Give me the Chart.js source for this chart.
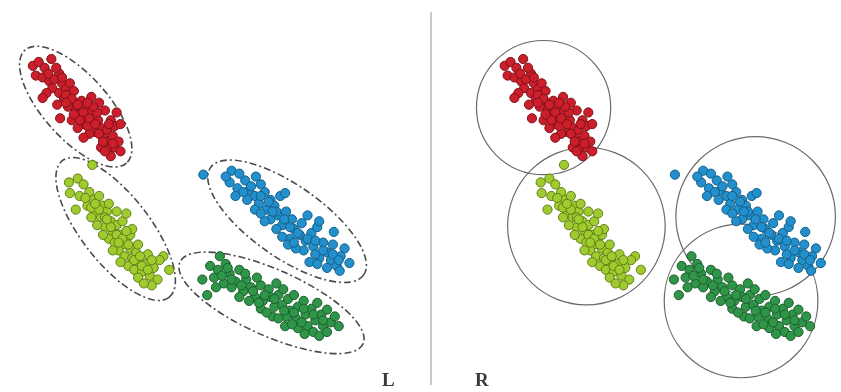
<!DOCTYPE html>
<html>
<head>
<meta charset="utf-8">
<script src="https://cdn.jsdelivr.net/npm/chart.js@4/dist/chart.umd.min.js"></script>
<style>
  html, body { margin: 0; padding: 0; background: #fff; }
  #wrap { position: relative; width: 841px; height: 392px; overflow: hidden; }
  .panel { position: absolute; top: 0; height: 392px; }
  #leftBox { left: 0; width: 431px; }
  #rightBox { left: 431px; width: 410px; }
  #divider { position: absolute; left: 430px; top: 12px; width: 2px; height: 373px; background: #c8c8c8; }
  .lbl { position: absolute; top: 369px; font-family: "Liberation Serif", serif; font-weight: bold; font-size: 19px; color: #3a3a3a; }
</style>
</head>
<body>
<div id="wrap">
  <div class="panel" id="leftBox"><canvas id="leftChart"></canvas></div>
  <div class="panel" id="rightBox"><canvas id="rightChart"></canvas></div>
  <div id="divider"></div>
  <div class="lbl" style="left:382px">L</div>
  <div class="lbl" style="left:475px">R</div>
</div>
<script>
// cluster points
const redPoints = [
  [28,62],[34,58],[40,64],[47,55],[55,70],[31,72],[38,74],[45,78],[52,64],[58,80],
  [48,85],[55,90],[62,86],[60,96],[66,92],[70,100],[64,104],[72,108],[78,98],[76,112],
  [82,104],[84,116],[88,110],[90,120],[80,122],[95,118],[98,126],[92,130],[86,132],[100,136],
  [104,128],[106,140],[110,134],[112,146],[116,140],[104,148],[98,146],[108,155],[118,150],[96,100],
  [102,108],[108,118],[112,124],[68,118],[74,126],[56,116],[80,136],[66,80],[42,90],[88,94],
  [94,110],[70,88],[84,124],[114,110],[118,122],[102,150],[38,95],[53,102],
  [44,70],[50,76],[58,74],[62,92],[68,96],[74,102],[80,110],[86,116],[92,122],[96,132],
  [100,140],[110,142],[90,104],[76,118],[62,100],[106,122],[84,100],[70,112]
];
const limePoints = [
  [89,164],[65,182],[74,178],[80,184],[66,193],[76,196],[72,210],[86,192],[90,200],[84,206],
  [96,196],[100,206],[92,214],[98,218],[104,212],[108,222],[102,228],[110,232],[114,226],[118,236],
  [106,240],[112,244],[120,246],[124,240],[128,250],[116,252],[122,258],[130,260],[134,254],[138,264],
  [126,268],[132,272],[140,274],[144,266],[148,278],[152,270],[156,282],[162,258],[168,272],[158,262],
  [146,256],[136,246],[128,236],[120,222],[114,212],[106,204],[94,226],[100,236],[88,218],[136,280],
  [150,288],[142,286],[110,252],[118,264],[130,230],[124,214],
  [82,198],[88,208],[96,210],[102,218],[108,228],[114,236],[120,240],[126,246],[132,262],[140,268],
  [146,272],[116,244],[104,220],[92,204],[124,232],[138,258],[150,262]
];
const bluePoints = [
  [203,174],[232,170],[240,173],[230,182],[246,180],[257,176],[238,188],[250,190],[262,184],[256,196],
  [266,192],[248,200],[260,204],[272,200],[268,210],[276,206],[282,196],[287,193],[280,216],[272,220],
  [288,212],[294,220],[284,226],[296,230],[304,224],[310,216],[302,236],[292,240],[308,242],[314,234],
  [320,228],[322,222],[316,248],[306,252],[298,250],[326,244],[330,254],[337,233],[334,262],[322,260],
  [340,268],[348,250],[344,258],[353,265],[343,273],[330,270],[312,264],[318,256],[244,192],[256,210],
  [266,222],[290,246],[226,176],[236,196],[278,230],[336,246],
  [252,186],[262,196],[270,202],[278,212],[286,220],[292,228],[300,234],[310,240],[318,242],[326,252],
  [336,256],[262,214],[274,212],[284,238],[296,244],[320,266],[342,262]
];
const greenPoints = [
  [220,258],[210,268],[202,282],[207,298],[218,272],[226,266],[214,280],[230,276],[224,286],[236,284],
  [240,272],[247,282],[244,294],[252,290],[256,300],[262,288],[270,292],[264,304],[272,300],[280,298],
  [285,292],[276,310],[284,308],[290,302],[296,298],[292,314],[300,310],[306,304],[288,320],[298,322],
  [308,318],[314,312],[320,306],[318,324],[324,318],[330,313],[310,330],[287,330],[300,332],[316,336],
  [307,338],[326,330],[334,326],[342,330],[338,320],[232,290],[250,304],[262,312],[274,320],[216,290],
  [258,280],[278,286],[304,326],[322,340],[240,300],[268,316],
  [222,278],[232,282],[242,288],[254,294],[266,298],[276,302],[286,314],[296,316],[306,312],[316,318],
  [326,324],[228,270],[246,276],[260,306],[280,322],[294,328],[330,336]
];

// L: elongated ellipses [cx, cy, semi-major, semi-minor, angle deg]
const ellipses = [
  [72, 104, 78, 33, 48],
  [113, 230, 89, 35, 52],
  [289, 222, 96, 37, 35],
  [273, 306, 103, 34, 24]
];
// R: circles [cx, cy, r]
const circles = [
  [68, 105, 69],
  [112, 227, 81],
  [286, 217, 82],
  [271, 304, 79]
];
// right panel shows the same clusters, shifted
const rightShift = 473;

const colors = [
  { fill: "#cc1f2b", line: "#7d1219" },
  { fill: "#9fcb2e", line: "#5f7f17" },
  { fill: "#2190cc", line: "#165e88" },
  { fill: "#2f9649", line: "#1c5d2c" }
];

function toXY(list) {
  return list.map(p => ({ x: p[0], y: p[1] }));
}

function makeDatasets() {
  return [redPoints, limePoints, bluePoints, greenPoints].map((pts, i) => ({
    data: toXY(pts),
    backgroundColor: colors[i].fill,
    borderColor: colors[i].line,
    borderWidth: 1,
    pointRadius: 4.6
  }));
}

const shapesPlugin = {
  id: "shapes",
  beforeDatasetsDraw(chart, args, opts) {
    const ctx = chart.ctx;
    const xs = chart.scales.x, ys = chart.scales.y;
    const unit = xs.getPixelForValue(1) - xs.getPixelForValue(0);
    ctx.save();
    ctx.strokeStyle = opts.color;
    ctx.lineWidth = opts.width;
    ctx.setLineDash(opts.dash);
    if (opts.kind === "ellipse") {
      ellipses.forEach(e => {
        ctx.beginPath();
        ctx.ellipse(xs.getPixelForValue(e[0]), ys.getPixelForValue(e[1]),
          e[2] * unit, e[3] * unit, e[4] * Math.PI / 180, 0, Math.PI * 2);
        ctx.stroke();
      });
    } else {
      circles.forEach(c => {
        ctx.beginPath();
        ctx.arc(xs.getPixelForValue(c[0]), ys.getPixelForValue(c[1]), c[2] * unit, 0, Math.PI * 2);
        ctx.stroke();
      });
    }
    ctx.restore();
  }
};

function createPanel(canvasId, xMin, xMax, shapeOpts) {
  return new Chart(document.getElementById(canvasId), {
    type: "scatter",
    data: { datasets: makeDatasets() },
    options: {
      responsive: true,
      maintainAspectRatio: false,
      animation: false,
      layout: { padding: 0 },
      plugins: {
        legend: { display: false },
        tooltip: { enabled: false },
        shapes: shapeOpts
      },
      scales: {
        x: { type: "linear", min: xMin, max: xMax, display: false },
        y: { type: "linear", min: 0, max: 392, reverse: true, display: false }
      }
    },
    plugins: [shapesPlugin]
  });
}

createPanel("leftChart", 0, 431,
  { kind: "ellipse", color: "#4a4a4a", width: 1.6, dash: [7, 3, 2, 3] });
createPanel("rightChart", 431 - rightShift, 841 - rightShift,
  { kind: "circle", color: "#6a6a6a", width: 1.2, dash: [] });
</script>
</body>
</html>
